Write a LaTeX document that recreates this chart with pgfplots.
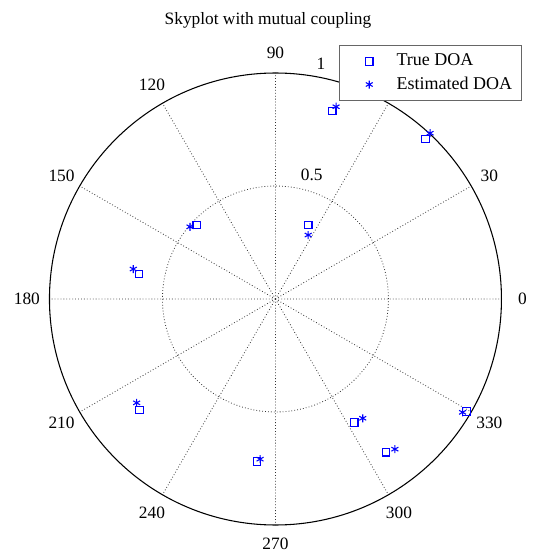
\documentclass[border=0pt]{standalone}
\usepackage{fontspec}
\setmainfont{Liberation Serif}
\usepackage{pgfplots}
\pgfplotsset{compat=1.18}
\usepgfplotslibrary{polar}
\begin{document}
\fontsize{13}{15}\selectfont
\begin{tikzpicture}
\begin{polaraxis}[
  scale only axis, width=339pt, height=339pt,
  ymin=0, ymax=1,
  xtick={0,30,...,330}, ytick={0.5},
  xticklabels={}, yticklabels={},
  major tick length=0pt,
  grid=major,
  major grid style={black!80, line width=0.6pt, dash pattern=on 0.6pt off 1.6pt},
  x axis line style={black, line width=0.8pt},
  y axis line style={draw=none},
  clip=false,
  legend cell align=left,
  legend image code/.code={%
    \path[draw=none, fill=none] (-17.75pt,-4pt) rectangle (18.5pt,4pt);
    \draw[#1] plot coordinates {(0pt,0pt)};},
  legend style={at={(1.045,1.062)}, anchor=north east, draw=black!60,
    line width=0.6pt, fill=white, font=\fontsize{13.5}{15}\selectfont,
    inner xsep=5pt, inner ysep=4.5pt, row sep=2.3pt},
]
\addplot[only marks, mark=square, mark size=2.8pt, blue, mark options={line width=0.8pt}] coordinates {
  (73.2,0.870) (46.8,0.970) (136.8,0.478) (66.1,0.358) (169.6,0.614)
  (219.2,0.777) (263.6,0.724) (302.5,0.649) (305.8,0.836) (329.5,0.982)
};
\addlegendentry{True DOA}
\addplot[only marks, mark=asterisk, mark size=3pt, blue, mark options={line width=0.8pt}] coordinates {
  (72.5,0.892) (47.0,1.003) (139.8,0.495) (62.9,0.318) (168.1,0.643)
  (216.8,0.767) (264.5,0.712) (306.2,0.654) (308.5,0.849) (328.8,0.968)
};
\addlegendentry{Estimated DOA}
\coordinate (c) at (axis cs:0,0);
\node at (axis cs:0,1.093) {0};
\node at (axis cs:30,1.093) {30};
\node at (axis cs:60,1.093) {60};
\node at (axis cs:90,1.09) {90};
\node at (axis cs:120,1.093) {120};
\node at (axis cs:150,1.093) {150};
\node at (axis cs:180,1.1) {180};
\node at (axis cs:210,1.093) {210};
\node at (axis cs:240,1.093) {240};
\node at (axis cs:270,1.085) {270};
\node at (axis cs:300,1.093) {300};
\node at (axis cs:330,1.093) {330};
\node[anchor=south west, inner sep=0pt, xshift=6.5pt] at (axis cs:82,0.525) {0.5};
\node[anchor=south west, inner sep=0pt, xshift=6.5pt] at (axis cs:82,1.025) {1};
\end{polaraxis}
\node at ([shift={(-5.6pt,209.25pt)}]c) {Skyplot with mutual coupling};
\pgfresetboundingbox
\path (c) ++(-206.6pt,224.25pt) rectangle ++(401.25pt,-414.75pt);
\end{tikzpicture}
\end{document}
